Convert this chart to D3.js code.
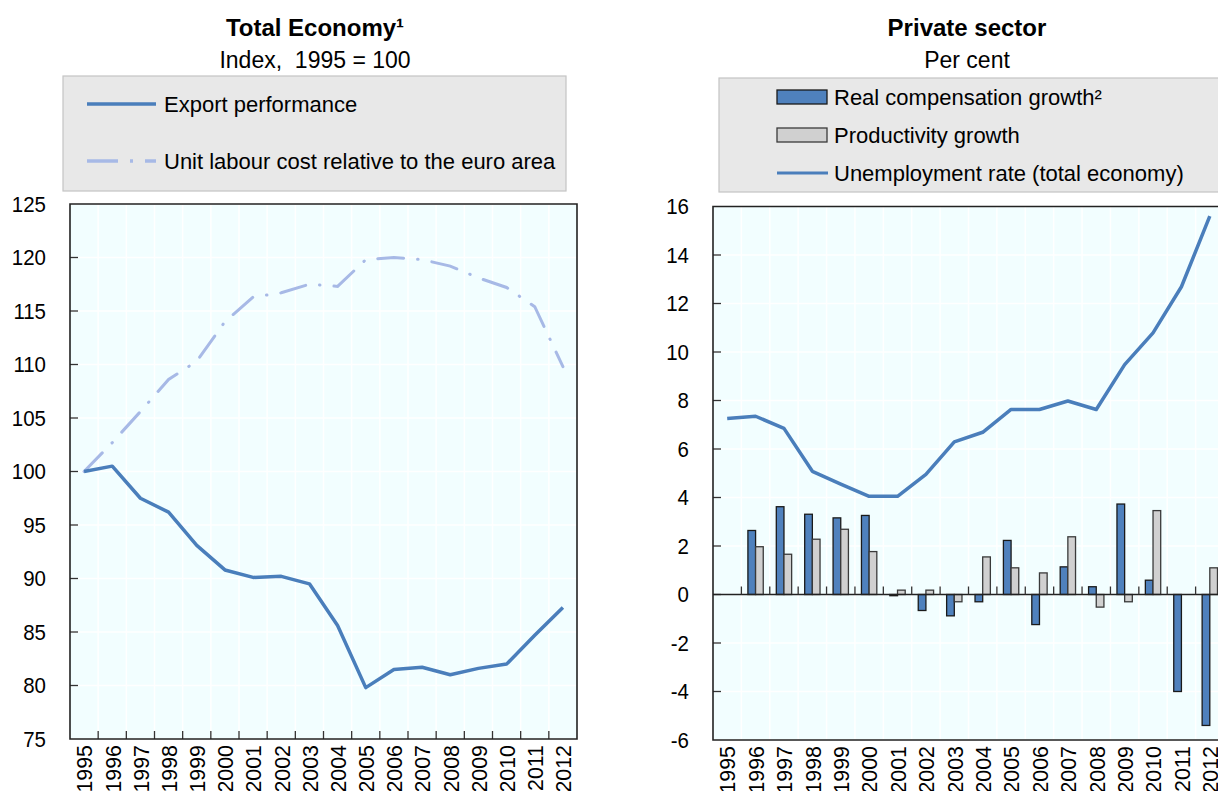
<!DOCTYPE html>
<html>
<head>
<meta charset="utf-8">
<script src="https://cdn.jsdelivr.net/npm/d3@7"></script>
<style>
  body { margin: 0; background: #fff; }
  text { font-family: "Liberation Sans", Arial, sans-serif; fill: #000; white-space: pre; }
</style>
</head>
<body>
<script>
var years = ["1995","1996","1997","1998","1999","2000","2001","2002","2003","2004","2005","2006","2007","2008","2009","2010","2011","2012"];

// left panel, index 1995 = 100
var exportPerf = [100, 100.5, 97.5, 96.2, 93.1, 90.8, 90.1, 90.2, 89.5, 85.6, 79.8, 81.5, 81.7, 81.0, 81.6, 82.0, 84.7, 87.3];
var ulcRel     = [100, 102.7, 105.6, 108.6, 110.3, 114.0, 116.3, 116.7, 117.5, 117.3, 119.8, 120.0, 119.8, 119.2, 118.1, 117.2, 115.4, 109.8];
var leftTicks  = [75, 80, 85, 90, 95, 100, 105, 110, 115, 120, 125];

// right panel, per cent
var realComp     = [null, 2.64, 3.62, 3.31, 3.16, 3.26, -0.05, -0.66, -0.88, -0.30, 2.23, -1.24, 1.14, 0.32, 3.73, 0.59, -4.0, -5.4];
var productivity = [null, 1.97, 1.66, 2.28, 2.69, 1.77, 0.18, 0.18, -0.30, 1.55, 1.10, 0.89, 2.38, -0.52, -0.30, 3.46, 0, 1.10];
var unemployment = [7.26, 7.35, 6.85, 5.08, 4.55, 4.05, 4.05, 4.95, 6.29, 6.69, 7.63, 7.63, 7.98, 7.63, 9.48, 10.79, 12.69, 15.6];
var rightTicks   = [-6, -4, -2, 0, 2, 4, 6, 8, 10, 12, 14, 16];

var blue = "#4a7ebb", lightBlue = "#a7b9e6", grey = "#d0d0d0";
var tickSize = 22, squeeze = 0.93;

var svg = d3.select("body").append("svg")
    .attr("width", 1218).attr("height", 791);

function panel(box, yDomain, ticks) {
  var g = svg.append("g");
  var x = d3.scaleBand().domain(years).range([box.x0, box.x1]);
  var y = d3.scaleLinear().domain(yDomain).range([box.y1, box.y0]);

  g.append("rect")
    .attr("x", box.x0).attr("y", box.y0)
    .attr("width", box.x1 - box.x0).attr("height", box.y1 - box.y0)
    .attr("fill", "#f2feff");

  // faint white grid
  g.selectAll(".vgrid").data(years.slice(1)).enter().append("line")
    .attr("x1", function(d){ return x(d); }).attr("x2", function(d){ return x(d); })
    .attr("y1", box.y0).attr("y2", box.y1)
    .attr("stroke", "#fff").attr("stroke-width", 1.5);
  g.selectAll(".hgrid").data(ticks).enter().append("line")
    .attr("x1", box.x0).attr("x2", box.x1)
    .attr("y1", function(d){ return y(d); }).attr("y2", function(d){ return y(d); })
    .attr("stroke", "#fff").attr("stroke-width", 1.5);

  // y tick labels + inward ticks
  g.append("g").selectAll("text").data(ticks).enter().append("text")
    .attr("transform", function(d){ return "translate(" + (box.x0 - 24) + "," + y(d) + ") scale(" + squeeze + ",1)"; })
    .attr("dy", "0.36em").attr("text-anchor", "end")
    .style("font-size", tickSize + "px")
    .text(function(d){ return d; });
  g.append("g").selectAll("line").data(ticks.slice(1, -1)).enter().append("line")
    .attr("x1", box.x0).attr("x2", box.x0 + 8)
    .attr("y1", function(d){ return y(d); }).attr("y2", function(d){ return y(d); })
    .attr("stroke", "#333").attr("stroke-width", 1.3);

  // year labels, rotated
  g.append("g").selectAll("text").data(years).enter().append("text")
    .attr("transform", function(d){
      return "translate(" + (x(d) + x.bandwidth() / 2) + "," + (box.y1 + 6) + ") rotate(-90) scale(" + squeeze + ",1)";
    })
    .attr("dy", "0.36em").attr("text-anchor", "end")
    .style("font-size", "23px")
    .text(function(d){ return d; });

  return {g: g, x: x, y: y};
}

function frame(p, box, sides) {
  var path = d3.path();
  path.moveTo(box.x1, box.y0);
  path.lineTo(box.x0, box.y0);
  path.lineTo(box.x0, box.y1);
  path.lineTo(box.x1, box.y1);
  if (sides == 4) path.closePath();
  p.g.append("path").attr("d", path.toString())
    .attr("fill", "none").attr("stroke", "#222").attr("stroke-width", 1.6);
}

function titles(cx, title, sub) {
  svg.append("text").attr("x", cx).attr("y", 36).attr("text-anchor", "middle")
    .style("font-size", "24px").style("font-weight", "bold").text(title);
  svg.append("text").attr("x", cx).attr("y", 68).attr("text-anchor", "middle")
    .style("font-size", "23px").text(sub);
}

// ---------- left panel ----------
var LB = {x0: 70, x1: 577, y0: 204, y1: 739};
var left = panel(LB, [75, 125], leftTicks);
var lx = function(i){ return left.x(years[i]) + left.x.bandwidth() / 2; };

left.g.append("g").selectAll("line").data(years.slice(1)).enter().append("line")
  .attr("x1", function(d){ return left.x(d); }).attr("x2", function(d){ return left.x(d); })
  .attr("y1", LB.y1).attr("y2", LB.y1 - 8)
  .attr("stroke", "#333").attr("stroke-width", 1.3);

var lline = d3.line().x(function(d, i){ return lx(i); }).y(function(d){ return left.y(d); });

left.g.append("path").datum(ulcRel).attr("d", lline)
  .attr("fill", "none").attr("stroke", lightBlue).attr("stroke-width", 3)
  .attr("stroke-linecap", "round").attr("stroke-dasharray", "26,14,0.5,14");
left.g.append("path").datum(exportPerf).attr("d", lline)
  .attr("fill", "none").attr("stroke", blue).attr("stroke-width", 3.5)
  .attr("stroke-linejoin", "round");
frame(left, LB, 4);

titles(315, "Total Economy\u00b9", "Index,  1995 = 100");

// left legend
var lleg = svg.append("g");
lleg.append("rect").attr("x", 63).attr("y", 76).attr("width", 503).attr("height", 115)
  .attr("fill", "#e8e8e8").attr("stroke", "#c4c4c4").attr("stroke-width", 1.2);
lleg.append("line").attr("x1", 87).attr("x2", 156).attr("y1", 104).attr("y2", 104)
  .attr("stroke", blue).attr("stroke-width", 3.5);
lleg.append("line").attr("x1", 87).attr("x2", 156).attr("y1", 161).attr("y2", 161)
  .attr("stroke", lightBlue).attr("stroke-width", 3.5).attr("stroke-dasharray", "31,12,3,12");
lleg.append("text").attr("x", 164).attr("y", 104).attr("dy", "0.36em")
  .style("font-size", "22px").text("Export performance");
lleg.append("text").attr("x", 164).attr("y", 161).attr("dy", "0.36em")
  .style("font-size", "22px").text("Unit labour cost relative to the euro area");

// ---------- right panel ----------
var RB = {x0: 713, x1: 1224, y0: 206.5, y1: 740};
var right = panel(RB, [-6, 16], rightTicks);
var rx = function(i){ return right.x(years[i]) + right.x.bandwidth() / 2; };
var y0 = right.y(0);

var sub = d3.scaleBand().domain(["comp", "prod"])
  .range([0, right.x.bandwidth()]).paddingInner(0).paddingOuter(0.85);

var bars = [];
years.forEach(function(yr, i){
  if (realComp[i] != null) bars.push({year: yr, key: "comp", v: realComp[i]});
  if (productivity[i] != null && productivity[i] != 0) bars.push({year: yr, key: "prod", v: productivity[i]});
});

right.g.append("g").selectAll("rect").data(bars).enter().append("rect")
  .attr("x", function(d){ return right.x(d.year) + sub(d.key); })
  .attr("width", sub.bandwidth())
  .attr("y", function(d){ return Math.min(right.y(d.v), y0); })
  .attr("height", function(d){ return Math.abs(right.y(d.v) - y0); })
  .attr("fill", function(d){ return d.key == "comp" ? "#4f81bd" : grey; })
  .attr("stroke", function(d){ return d.key == "comp" ? "#1a1a1a" : "#3a3a3a"; })
  .attr("stroke-width", 1.3);

// zero line with category ticks
right.g.append("line").attr("x1", RB.x0).attr("x2", RB.x1).attr("y1", y0).attr("y2", y0)
  .attr("stroke", "#222").attr("stroke-width", 1.4);
right.g.append("g").selectAll("line").data(years.slice(1)).enter().append("line")
  .attr("x1", function(d){ return right.x(d); }).attr("x2", function(d){ return right.x(d); })
  .attr("y1", y0).attr("y2", y0 - 8)
  .attr("stroke", "#333").attr("stroke-width", 1.3);

var rline = d3.line().x(function(d, i){ return rx(i); }).y(function(d){ return right.y(d); });
right.g.append("path").datum(unemployment).attr("d", rline)
  .attr("fill", "none").attr("stroke", blue).attr("stroke-width", 3.5)
  .attr("stroke-linejoin", "round");
frame(right, RB, 3);

titles(967, "Private sector", "Per cent");

// right legend
var rleg = svg.append("g");
rleg.append("rect").attr("x", 719).attr("y", 78).attr("width", 520).attr("height", 114)
  .attr("fill", "#e8e8e8").attr("stroke", "#c4c4c4").attr("stroke-width", 1.2);
var ritems = [
  {label: "Real compensation growth\u00b2", type: "bar", fill: "#4f81bd", stroke: "#1a1a1a"},
  {label: "Productivity growth", type: "bar", fill: grey, stroke: "#3a3a3a"},
  {label: "Unemployment rate (total economy)", type: "line"}
];
ritems.forEach(function(it, i){
  var cy = 97 + i * 38;
  if (it.type == "bar") {
    rleg.append("rect").attr("x", 777).attr("y", cy - 7).attr("width", 50).attr("height", 14)
      .attr("fill", it.fill).attr("stroke", it.stroke).attr("stroke-width", 1.3);
  } else {
    rleg.append("line").attr("x1", 777).attr("x2", 828).attr("y1", cy).attr("y2", cy)
      .attr("stroke", blue).attr("stroke-width", 3);
  }
  rleg.append("text").attr("x", 834).attr("y", cy).attr("dy", "0.36em")
    .style("font-size", "22px").text(it.label);
});
</script>
</body>
</html>
